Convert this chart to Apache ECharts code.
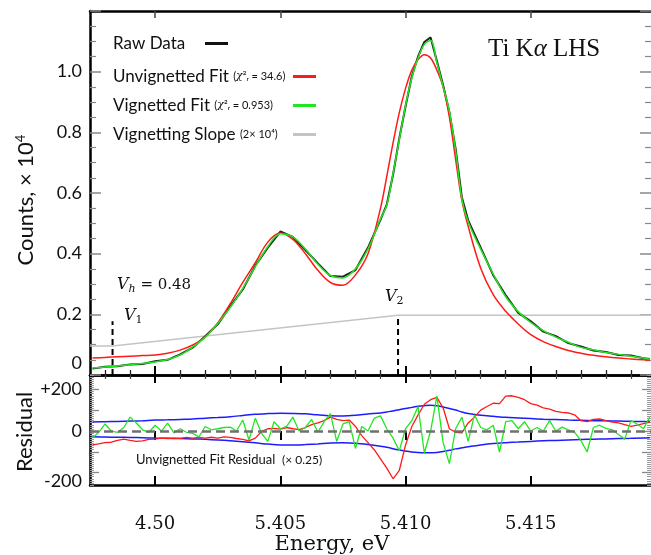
<!DOCTYPE html>
<html><head><meta charset="utf-8">
<script src="https://cdn.jsdelivr.net/npm/echarts@6/dist/echarts.min.js"></script>
<style>html,body{margin:0;padding:0;background:#fff}#c{width:651px;height:555px}</style>
</head><body><div id="c"></div>
<script>
// ---------- data ----------
const energy = [5.3975,5.398,5.3985,5.399,5.3995,5.4,5.4005,5.401,5.4015,5.402,5.4025,5.403,5.4035,5.404,5.4045,5.405,5.4055,5.406,5.4065,5.407,5.4075,5.408,5.4085,5.409,
  5.40925,5.4095,5.40975,5.41,5.41025,5.4105,5.41075,5.411,5.41125,5.4115,5.41175,5.412,5.41225,5.4125,
  5.413,5.4135,5.414,5.4145,5.415,5.4155,5.416,5.4165,5.417,5.4175,5.418,5.4185,5.419,5.4195,5.41975];
const rawData = [0.021,0.027,0.029,0.035,0.036,0.045,0.050,0.068,0.090,0.128,0.167,0.226,0.282,0.360,0.420,0.473,0.455,0.412,0.368,0.326,0.324,0.346,0.420,0.512,
  0.562,0.660,0.780,0.886,0.985,1.05,1.098,1.113,1.035,0.955,0.866,0.745,0.585,0.51,
  0.42,0.329,0.263,0.205,0.177,0.143,0.128,0.105,0.094,0.081,0.076,0.066,0.064,0.055,0.053];
const unvignettedFit = [0.056,0.058,0.060,0.062,0.064,0.066,0.072,0.082,0.099,0.125,0.172,0.235,0.305,0.370,0.438,0.468,0.447,0.400,0.345,0.305,0.296,0.330,0.400,0.550,
  0.655,0.765,0.865,0.945,1.005,1.04,1.056,1.045,1.005,0.95,0.85,0.71,0.575,0.49,
  0.352,0.265,0.21,0.168,0.133,0.11,0.094,0.081,0.072,0.065,0.060,0.056,0.053,0.050,0.049];
const vignettedFit = [0.023,0.026,0.030,0.034,0.038,0.043,0.051,0.066,0.092,0.125,0.170,0.223,0.285,0.357,0.423,0.466,0.455,0.415,0.365,0.328,0.320,0.350,0.416,0.515,
  0.56,0.664,0.776,0.889,0.98,1.045,1.09,1.103,1.03,0.95,0.87,0.74,0.58,0.505,
  0.415,0.333,0.258,0.209,0.173,0.146,0.125,0.108,0.091,0.083,0.074,0.068,0.062,0.056,0.052];
const sigmaUpper = [43,45,46,48,50,53,54,56,58,62,65,69,75,81,84,86,85,83,78,74,73,76,82,87,
  92,97,103,109,114,119,122,124,122,116,109,101,92,85,
  76,71,66,63,60,57,55,53,52,50,49,48,47,46,45];
const sigmaLower = [-28,-29,-30,-31,-32,-34,-35,-36,-38,-40,-43,-47,-52,-57,-63,-67,-67,-65,-62,-58,-57,-59,-65,-73,
  -78,-85,-91,-96,-101,-104,-105,-105,-103,-99,-93,-86,-81,-76,
  -67,-60,-56,-53,-50,-47,-45,-43,-41,-39,-38,-36,-35,-34,-32];
const slopeEnergy = [5.3974, 5.3983, 5.4097, 5.4198];
const slopeValue = [0.096, 0.096, 0.197, 0.197];
const markerEnergy = [5.3983, 5.4097];
const markerTop = [0.177, 0.197];
const residEnergy = [5.3975,5.39775,5.398,5.39825,5.3985,5.39875,5.399,5.39925,5.3995,5.39975,
  5.4,5.40025,5.4005,5.40075,5.401,5.40125,5.4015,5.40175,5.402,5.40225,
  5.4025,5.40275,5.403,5.40325,5.4035,5.40375,5.404,5.40425,5.4045,5.40475,
  5.405,5.40525,5.4055,5.40575,5.406,5.40625,5.4065,5.40675,5.407,5.40725,
  5.4075,5.40775,5.408,5.40825,5.4085,5.40875,5.409,5.40925,5.4095,5.40975,
  5.41,5.41025,5.4105,5.41075,5.411,5.41125,5.4115,5.41175,5.412,5.41225,
  5.4125,5.41275,5.413,5.41325,5.4135,5.41375,5.414,5.41425,5.4145,5.41475,
  5.415,5.41525,5.4155,5.41575,5.416,5.41625,5.4165,5.41675,5.417,5.41725,
  5.4175,5.41775,5.418,5.41825,5.4185,5.41875,5.419,5.41925,5.4195,5.41975];
const residUnvignetted = [-67,-62,-56,-54,-45,-39,-45,-50,-47,-40,
  -39,-34,-36,-34,-35,-31,-34,-31,-34,-30,
  -34,-28,-31,-36,-40,-47,-34,-2,11,13,
  9,17,11,7,17,31,39,50,67,56,
  50,53,22,-22,-56,-90,-134,-179,-230,-190,
  -67,22,78,129,151,162,112,11,-6,-9,
  39,67,101,118,134,132,168,170,162,151,
  132,125,112,106,95,90,87,78,50,45,
  56,58,50,43,39,31,22,28,36,43];
const residVignetted = [-34,-6,34,0,-6,17,67,39,6,-6,
  28,0,38,-9,11,-6,-11,-28,22,6,
  11,17,19,0,53,-43,62,-11,-50,45,
  11,22,67,0,17,56,-6,45,84,-50,
  34,45,-84,22,0,62,73,11,-34,-95,
  11,50,118,-106,0,168,-56,-157,11,67,
  -50,78,17,6,28,-101,45,50,11,45,
  0,17,0,50,0,19,6,-6,-45,-101,
  17,28,13,6,-17,-39,50,34,11,67];
const xMajorTicks = [5.400, 5.405, 5.410, 5.415];
const xTickLabels = ['4.50', '5.405', '5.410', '5.415'];
const xMinorTicks = [5.398,5.399,5.401,5.402,5.403,5.404,5.406,5.407,5.408,5.409,5.411,5.412,5.413,5.414,5.416,5.417,5.418,5.419];
const residMajorTicks = [-200,-100,0,100,200];
const residLabelTicks = [-200,0,200];

// ---------- chart ----------
const XMIN = 5.3974, XMAX = 5.4198;
const RMIN = -260, RMAX = 270;
const sans = 'Lato', serif = 'DejaVu Serif';
const pair = (xs, ys) => xs.map((x, i) => [x, ys[i]]);
const none = {show:false};
function xa(grid, pos, o) {
  return Object.assign({type:'value', gridIndex:grid, position:pos, offset:0, min:XMIN, max:XMAX,
    axisLine:{show:false}, axisTick:{show:false}, axisLabel:{show:false}, splitLine:none}, o);
}
function ya(grid, pos, min, max, o) {
  return Object.assign({type:'value', gridIndex:grid, position:pos, offset:0, min:min, max:max,
    axisLine:{show:false}, axisTick:{show:false}, axisLabel:{show:false}, splitLine:none}, o);
}
const blackLine = {show:true, onZero:false, lineStyle:{color:'#000', width:2.5}};

const chart = echarts.init(document.getElementById('c'));
chart.setOption({
  animation:false,
  backgroundColor:'#fff',
  title:{text:'{a|Ti K}{b|α}{a| LHS}', left:488, top:37, padding:0,
    textStyle:{fontWeight:'normal', rich:{a:{fontFamily:'Liberation Serif', fontWeight:'normal', fontSize:25, color:'#111'},
                     b:{fontFamily:'Liberation Serif', fontStyle:'italic', fontWeight:'normal', fontSize:25, color:'#111'}}}},
  legend:[
    {data:['Raw Data'], left:113, top:35, padding:0, orient:'vertical', align:'right', icon:'rect',
     itemWidth:23, itemHeight:3,
     textStyle:{width:87, fontFamily:sans, fontSize:17, color:'#111',
       rich:{a:{align:'left', fontFamily:sans, fontSize:17, color:'#111', lineHeight:20}}},
     formatter:n => '{a|' + n + '}'},
    {data:['Unvignetted Fit','Vignetted Fit','Vignetting Slope'], left:113, top:68, padding:0,
     orient:'vertical', align:'right', icon:'rect', itemWidth:23, itemHeight:3, itemGap:12,
     textStyle:{width:175, fontFamily:sans, fontSize:17, color:'#111',
       rich:{a:{align:'left', fontFamily:sans, fontSize:17, color:'#111', lineHeight:20},
             s:{align:'left', fontFamily:sans, fontSize:11, color:'#111', lineHeight:20},
             i:{align:'left', fontFamily:serif, fontStyle:'italic', fontSize:11, color:'#111', lineHeight:20}}},
     formatter:n => n === 'Unvignetted Fit' ? '{a|Unvignetted Fit }{s|(}{i|χ}{s|²ᵣ = 34.6)}'
                 : n === 'Vignetted Fit' ? '{a|Vignetted Fit }{s|(}{i|χ}{s|²ᵣ = 0.953)}'
                 : '{a|Vignetting Slope }{s|(2× 10⁴)}'}
  ],
  grid:[{left:90, top:11, width:562, height:364}, {left:90, top:375, width:562, height:110}],
  xAxis:[
    xa(0,'bottom',{axisLine:blackLine, axisTick:{show:true, inside:true, length:9, customValues:xMajorTicks, lineStyle:{color:'#000', width:2}}}),
    xa(0,'bottom',{axisTick:{show:true, inside:true, length:5, customValues:xMinorTicks, lineStyle:{color:'#222', width:1.3}}}),
    xa(0,'top',{axisLine:blackLine, axisTick:{show:true, inside:true, length:7, customValues:xMajorTicks, lineStyle:{color:'#444', width:1.5}}}),
    xa(0,'top',{axisTick:{show:true, inside:true, length:4, customValues:xMinorTicks, lineStyle:{color:'#444', width:1.2}}}),
    xa(1,'bottom',{axisLine:blackLine, axisTick:{show:true, inside:true, length:9, customValues:xMajorTicks, lineStyle:{color:'#000', width:2}},
      axisLabel:{show:true, customValues:xMajorTicks, margin:30, fontFamily:serif, fontSize:18, color:'#111',
        formatter:v => { const i = xMajorTicks.findIndex(t => Math.abs(t - v) < 1e-7); return i < 0 ? '' : xTickLabels[i]; }}}),
    xa(1,'bottom',{axisTick:{show:true, inside:false, length:9, customValues:xMajorTicks, lineStyle:{color:'#000', width:2}}}),
    xa(1,'top',{axisLine:blackLine, axisTick:{show:true, inside:true, length:8, customValues:xMajorTicks, lineStyle:{color:'#000', width:2}}})
  ],
  yAxis:[
    ya(0,'left',0,1.2,{interval:0.2, axisLine:blackLine,
      axisTick:{show:true, inside:true, length:11, lineStyle:{color:'#888', width:1.5}},
      minorTick:{show:true, splitNumber:4, length:6, lineStyle:{color:'#888', width:1.2}},
      axisLabel:{show:true, margin:8, showMaxLabel:false, fontFamily:sans, fontSize:18, color:'#111',
        formatter:v => v === 0 ? '{z|0}' : v.toFixed(1),
        rich:{z:{fontFamily:sans, fontSize:18, color:'#111', padding:[0,0,24,0]}}}}),
    ya(0,'right',0,1.2,{interval:0.2,
      axisTick:{show:true, inside:true, length:11, lineStyle:{color:'#888', width:1.5}},
      minorTick:{show:true, splitNumber:4, length:6, lineStyle:{color:'#888', width:1.2}}}),
    ya(1,'left',RMIN,RMAX,{interval:10, axisTick:{show:true, inside:true, length:4, lineStyle:{color:'#999', width:1}}}),
    ya(1,'left',RMIN,RMAX,{axisLine:blackLine,
      axisTick:{show:true, inside:true, length:9, customValues:residMajorTicks, lineStyle:{color:'#888', width:1.3}},
      axisLabel:{show:true, customValues:residLabelTicks, margin:8, fontFamily:sans, fontSize:18, color:'#111',
        formatter:v => v > 0 ? '+' + v : (v < 0 ? '{m|' + v + '}' : String(v)),
        rich:{m:{fontFamily:sans, fontSize:18, color:'#111', padding:[18,0,0,0]}}}}),
    ya(1,'right',RMIN,RMAX,{interval:10, axisTick:{show:true, inside:true, length:4, lineStyle:{color:'#999', width:1}}}),
    ya(1,'right',RMIN,RMAX,{axisTick:{show:true, inside:true, length:9, customValues:residMajorTicks, lineStyle:{color:'#888', width:1.3}}})
  ],
  series:[
    {name:'Vignetting Slope', type:'line', xAxisIndex:0, yAxisIndex:0, showSymbol:false, color:'#c4c4c4',
     lineStyle:{color:'#c4c4c4', width:1.5}, data:pair(slopeEnergy, slopeValue)},
    ...markerEnergy.map((e, i) => ({type:'line', xAxisIndex:0, yAxisIndex:0, showSymbol:false,
      lineStyle:{color:'#000', width:2, type:[6,4]}, data:[[e, 0], [e, markerTop[i]]]})),
    {name:'Raw Data', type:'line', xAxisIndex:0, yAxisIndex:0, showSymbol:false, color:'#111',
     lineStyle:{color:'#222', width:2}, data:pair(energy, rawData)},
    {name:'Unvignetted Fit', type:'line', xAxisIndex:0, yAxisIndex:0, showSymbol:false, smooth:0.35, color:'#ff1a1a',
     lineStyle:{color:'#ff1a1a', width:1.5}, data:pair(energy, unvignettedFit)},
    {name:'Vignetted Fit', type:'line', xAxisIndex:0, yAxisIndex:0, showSymbol:false, smooth:0.35, color:'#1fe61f',
     lineStyle:{color:'#1fe61f', width:1.5}, data:pair(energy, vignettedFit)},
    {name:'σ+', type:'line', xAxisIndex:4, yAxisIndex:3, showSymbol:false, smooth:0.3,
     lineStyle:{color:'#1c1cff', width:1.5}, data:pair(energy, sigmaUpper),
     markLine:{silent:true, symbol:'none', label:{show:false},
       lineStyle:{color:'#707070', width:2.5, type:[9,5]}, data:[{yAxis:0}]}},
    {name:'σ-', type:'line', xAxisIndex:4, yAxisIndex:3, showSymbol:false, smooth:0.3,
     lineStyle:{color:'#1c1cff', width:1.5}, data:pair(energy, sigmaLower)},
    {name:'Unvignetted Residual', type:'line', xAxisIndex:4, yAxisIndex:3, showSymbol:false,
     lineStyle:{color:'#ff1a1a', width:1.3}, data:pair(residEnergy, residUnvignetted)},
    {name:'Vignetted Residual', type:'line', xAxisIndex:4, yAxisIndex:3, showSymbol:false,
     lineStyle:{color:'#22e622', width:1.3}, data:pair(residEnergy, residVignetted)}
  ],
  graphic:[
    {type:'text', x:26, y:200, rotation:Math.PI/2,
     style:{text:'{a|Counts, × 10}{s|4}', align:'center', verticalAlign:'middle',
       rich:{a:{fontFamily:sans, fontSize:22, fill:'#111'}, s:{fontFamily:sans, fontSize:13, fill:'#111', padding:[0,0,10,0]}}}},
    {type:'text', x:25, y:432, rotation:Math.PI/2,
     style:{text:'Residual', fontFamily:sans, fontSize:22, fill:'#111', align:'center', verticalAlign:'middle'}},
    {type:'text', x:332, y:545,
     style:{text:'Energy, eV', fontFamily:serif, fontSize:21, fill:'#111', align:'center', verticalAlign:'middle'}},
    {type:'text', x:136, y:460,
     style:{text:'{a|Unvignetted Fit Residual}  {b|(× 0.25)}', align:'left', verticalAlign:'middle',
       rich:{a:{fontFamily:sans, fontSize:13, fill:'#111'}, b:{fontFamily:sans, fontSize:12, fill:'#111'}}}},
    {type:'text', x:117, y:285,
     style:{text:'{v|V}{s|h}{t| = 0.48}', align:'left', verticalAlign:'middle',
       rich:{v:{fontFamily:serif, fontStyle:'italic', fontSize:16, fill:'#111'},
             s:{fontFamily:serif, fontStyle:'italic', fontSize:11, fill:'#111', padding:[8,0,0,0]},
             t:{fontFamily:serif, fontSize:15, fill:'#111'}}}},
    {type:'text', x:124, y:316,
     style:{text:'{v|V}{s|1}', align:'left', verticalAlign:'middle',
       rich:{v:{fontFamily:serif, fontStyle:'italic', fontSize:16, fill:'#111'},
             s:{fontFamily:serif, fontSize:11, fill:'#111', padding:[8,0,0,0]}}}},
    {type:'text', x:385, y:297,
     style:{text:'{v|V}{s|2}', align:'left', verticalAlign:'middle',
       rich:{v:{fontFamily:serif, fontStyle:'italic', fontSize:16, fill:'#111'},
             s:{fontFamily:serif, fontSize:11, fill:'#111', padding:[8,0,0,0]}}}}
  ]
});
</script></body></html>
